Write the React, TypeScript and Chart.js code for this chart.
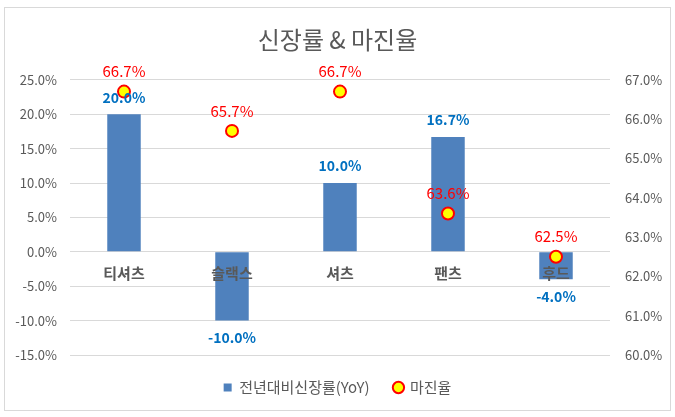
import { Chart, registerables } from "chart.js";
import { useEffect, useRef } from "react";

Chart.register(...registerables);

const categories = ["티셔츠", "슬랙스", "셔츠", "팬츠", "후드"];
const growthYoY = [20.0, -10.0, 10.0, 16.7, -4.0];
const marginRate = [66.7, 65.7, 66.7, 63.6, 62.5];
const growthTicks = [-15, -10, -5, 0, 5, 10, 15, 20, 25];
const marginTicks = [60, 61, 62, 63, 64, 65, 66, 67];

const FONT = "'Noto Sans CJK KR', 'Noto Sans', sans-serif";
const GRAY = "#595959";

// value labels: blue bold for bars, red for margin points
const labelPlugin = {
    id: "valueLabels",
    afterDatasetsDraw(chart: any) {
        const ctx = chart.ctx;
        ctx.save();
        ctx.textAlign = "center";
        ctx.textBaseline = "middle";
        chart.data.datasets.forEach((ds: any, i: number) => {
            const meta = chart.getDatasetMeta(i);
            meta.data.forEach((el: any, j: number) => {
                const v = ds.data[j];
                if (ds.type === "bar") {
                    ctx.font = `bold 14px ${FONT}`;
                    ctx.fillStyle = "#0070c0";
                    const y = v >= 0 ? el.y - 17 : el.y + 17;
                    ctx.fillText(v.toFixed(1) + "%", el.x, y);
                } else {
                    ctx.font = `15px ${FONT}`;
                    ctx.fillStyle = "#ff0000";
                    ctx.fillText(v.toFixed(1) + "%", el.x, el.y - 20);
                }
            });
        });
        ctx.restore();
    },
};

function App() {
    const chartRef = useRef<HTMLCanvasElement>(null);
    const chartInstance = useRef<Chart | null>(null);

    useEffect(() => {
        document.body.style.margin = "0";
        if (chartInstance.current) { chartInstance.current.destroy(); }
        const ctx = chartRef.current!.getContext("2d")!;

        chartInstance.current = new Chart(ctx, {
            type: "bar",
            data: {
                labels: categories,
                datasets: [
                    {
                        type: "bar",
                        label: "전년대비신장률(YoY)",
                        data: growthYoY,
                        backgroundColor: "#4f81bd",
                        barPercentage: 0.31,
                        categoryPercentage: 1,
                        yAxisID: "y",
                        order: 2,
                    },
                    {
                        type: "line",
                        label: "마진율",
                        data: marginRate,
                        showLine: false,
                        pointRadius: 6,
                        pointHoverRadius: 6,
                        pointBorderWidth: 2,
                        pointBackgroundColor: "#ffff00",
                        pointBorderColor: "#ff0000",
                        backgroundColor: "#ffff00",
                        borderColor: "#ff0000",
                        yAxisID: "y1",
                        order: 1,
                    },
                ] as any,
            },
            options: {
                animation: false,
                responsive: false,
                layout: { padding: { top: 0, bottom: 12, left: 0, right: 0 } },
                scales: {
                    x: {
                        position: { y: 0 } as any,
                        grid: { display: false },
                        border: { display: false },
                        ticks: {
                            z: 1,
                            padding: 4,
                            color: GRAY,
                            font: { family: FONT, size: 15, weight: "bold" },
                        },
                    },
                    y: {
                        position: "left",
                        min: -15,
                        max: 25,
                        afterBuildTicks: (s: any) => { s.ticks = growthTicks.map((v) => ({ value: v })); },
                        afterFit: (s: any) => { s.width = 70; },
                        grid: { color: "#d9d9d9", drawTicks: false },
                        border: { display: false },
                        ticks: {
                            padding: 13,
                            color: GRAY,
                            font: { family: FONT, size: 13 },
                            callback: (v: any) => Number(v).toFixed(1) + "%",
                        },
                    },
                    y1: {
                        position: "right",
                        min: 60,
                        max: 67,
                        afterBuildTicks: (s: any) => { s.ticks = marginTicks.map((v) => ({ value: v })); },
                        afterFit: (s: any) => { s.width = 65; },
                        grid: { display: false, drawTicks: false },
                        border: { display: false },
                        ticks: {
                            padding: 15,
                            color: GRAY,
                            font: { family: FONT, size: 13 },
                            callback: (v: any) => Number(v).toFixed(1) + "%",
                        },
                    },
                },
                plugins: {
                    title: {
                        display: true,
                        text: "신장률 & 마진율",
                        color: GRAY,
                        font: { family: FONT, size: 24, weight: "normal" },
                        padding: { top: 25, bottom: 26 },
                    },
                    legend: {
                        position: "bottom",
                        labels: {
                            usePointStyle: true,
                            boxWidth: 8,
                            boxHeight: 8,
                            padding: 25,
                            color: GRAY,
                            font: { family: FONT, size: 15 },
                            generateLabels: (chart: any) => {
                                const items = Chart.defaults.plugins.legend.labels.generateLabels(chart);
                                items.forEach((it: any) => {
                                    it.pointStyle = it.datasetIndex === 0 ? "rect" : "circle";
                                    if (it.datasetIndex === 1) { it.lineWidth = 2; }
                                });
                                return items.sort((a: any, b: any) => a.datasetIndex - b.datasetIndex);
                            },
                        },
                    },
                    tooltip: { enabled: false },
                },
            },
            plugins: [labelPlugin],
        });

        return () => {
            if (chartInstance.current) {
                chartInstance.current.destroy();
                chartInstance.current = null;
            }
        };
    }, []);

    return (
        <div style={{ position: "relative", width: 675, height: 417 }}>
            <div style={{ position: "absolute", left: 4, top: 7, width: 667, height: 404, border: "1px solid #d9d9d9", boxSizing: "border-box" }} />
            <canvas ref={chartRef} width={675} height={417} style={{ position: "absolute", left: 0, top: 0, width: 675, height: 417 }} />
        </div>
    );
}

export default App;
